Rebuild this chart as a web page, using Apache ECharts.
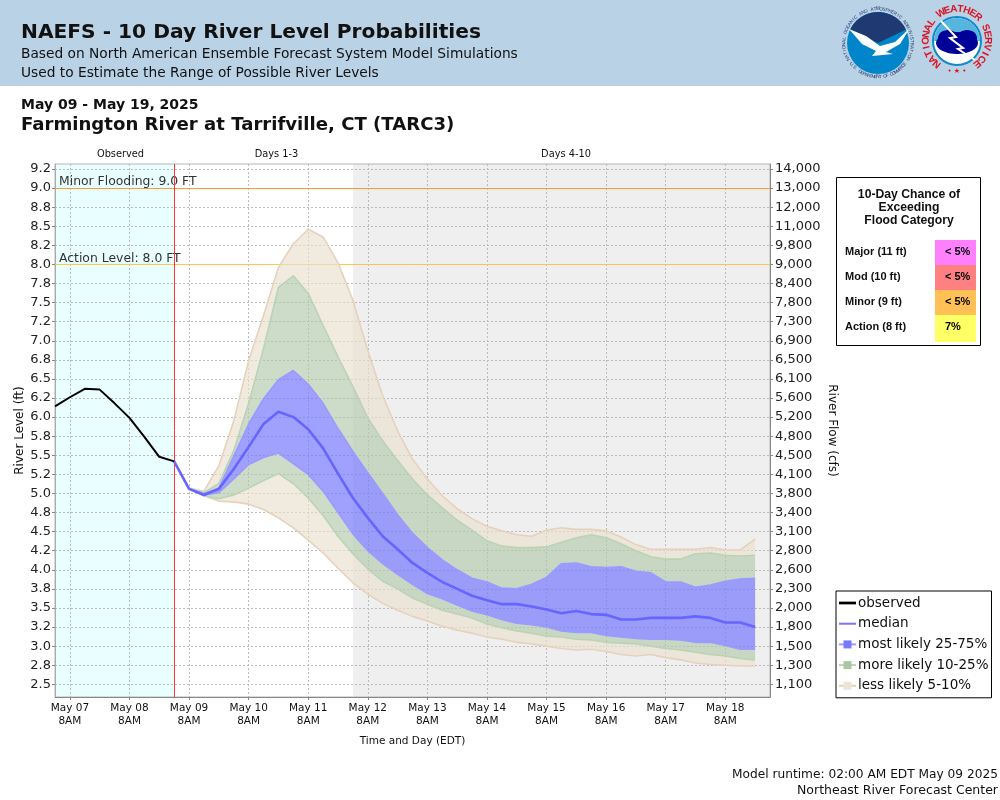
<!DOCTYPE html>
<html><head><meta charset="utf-8">
<script src="https://cdn.jsdelivr.net/npm/echarts@6/dist/echarts.min.js"></script>
<style>html,body{margin:0;padding:0;background:#fff}#c{width:1000px;height:800px}</style>
</head><body><div id="c"></div>
<script>
// ---- axis labels ----
const dayNames = ['May 07','May 08','May 09','May 10','May 11','May 12','May 13','May 14','May 15','May 16','May 17','May 18'];
const hourNames = ['2AM','8AM','2PM','8PM'];
const tickValues = [9.25,9,8.75,8.5,8.25,8,7.75,7.5,7.25,7,6.75,6.5,6.25,6,5.75,5.5,5.25,5,4.75,4.5,4.25,4,3.75,3.5,3.25,3,2.75,2.5];
const levelLabels = ['9.2','9.0','8.8','8.5','8.2','8.0','7.8','7.5','7.2','7.0','6.8','6.5','6.2','6.0','5.8','5.5','5.2','5.0','4.8','4.5','4.2','4.0','3.8','3.5','3.2','3.0','2.8','2.5'];
const flowLabels = ['14,000','13,000','12,000','11,000','9,800','9,000','8,400','7,800','7,300','6,900','6,500','6,100','5,600','5,200','4,800','4,500','4,100','3,800','3,400','3,100','2,800','2,600','2,300','2,000','1,800','1,500','1,300','1,100'];
// ---- series values (ft), every 6 hours ----
const observed = [6.14,6.26,6.37,6.36,6.18,5.99,5.74,5.48,5.42];
const median = [5.42,5.06,4.98,5.06,5.32,5.61,5.91,6.07,6.00,5.84,5.59,5.26,4.94,4.68,4.44,4.27,4.09,3.96,3.84,3.75,3.66,3.60,3.55,3.55,3.52,3.48,3.43,3.46,3.42,3.41,3.35,3.35,3.37,3.37,3.37,3.39,3.37,3.31,3.31,3.25];
const p95 = [5.07,5.03,5.36,5.95,6.74,7.33,7.96,8.27,8.46,8.36,8.02,7.53,6.87,6.28,5.82,5.45,5.19,4.97,4.80,4.67,4.57,4.51,4.46,4.44,4.52,4.55,4.53,4.53,4.51,4.43,4.33,4.27,4.27,4.27,4.27,4.29,4.26,4.26,4.40];
const p90 = [5.06,5.01,5.13,5.56,6.18,6.90,7.70,7.85,7.62,7.20,6.79,6.40,5.99,5.69,5.43,5.19,4.98,4.81,4.65,4.52,4.38,4.31,4.29,4.29,4.30,4.36,4.42,4.46,4.42,4.34,4.25,4.17,4.14,4.14,4.21,4.22,4.19,4.18,4.19];
const p75 = [5.06,5.00,5.07,5.49,5.91,6.24,6.49,6.61,6.43,6.18,5.85,5.55,5.27,5.00,4.72,4.48,4.29,4.13,4.00,3.89,3.84,3.76,3.75,3.81,3.90,4.08,4.09,4.04,4.03,4.04,3.98,3.96,3.84,3.84,3.77,3.80,3.85,3.88,3.89];
const p25 = [5.06,4.98,5.01,5.19,5.38,5.47,5.53,5.39,5.25,5.03,4.75,4.47,4.25,4.08,3.94,3.81,3.69,3.62,3.54,3.46,3.41,3.35,3.30,3.28,3.25,3.20,3.18,3.18,3.14,3.12,3.10,3.09,3.09,3.08,3.05,3.05,3.01,2.96,2.96];
const p10 = [5.06,4.97,4.93,4.98,5.07,5.17,5.26,5.13,4.94,4.71,4.44,4.21,4.01,3.85,3.75,3.63,3.55,3.47,3.42,3.37,3.29,3.24,3.20,3.17,3.13,3.12,3.09,3.08,3.05,3.04,3.03,3.00,2.97,2.95,2.92,2.89,2.87,2.84,2.82];
const p5 = [5.06,4.97,4.90,4.89,4.86,4.79,4.68,4.55,4.39,4.22,4.02,3.83,3.68,3.56,3.47,3.39,3.33,3.26,3.21,3.17,3.12,3.09,3.05,3.03,3.00,2.97,2.95,2.96,2.93,2.89,2.87,2.89,2.85,2.82,2.78,2.76,2.75,2.74,2.74];
// ---- flood table ----
const floodNames = ['Major (11 ft)','Mod (10 ft)','Minor (9 ft)','Action (8 ft)'];
const floodChances = ['< 5%','< 5%','< 5%','7%'];
const floodColors = ['#FF80FF','#FF8080','#FFC055','#FFFF66'];

const categories = [];
dayNames.forEach(d => hourNames.forEach(h => categories.push(d + ' ' + h)));
categories.push('May 19 2AM');
const pad = (arr, n) => new Array(n).fill(null).concat(arr);
const diff = (a, b) => pad(a.map((v, i) => +(v - b[i]).toFixed(2)), 9);
const is8 = (i, v) => v.endsWith(' 8AM');

const SANS = '"DejaVu Sans"', LIB = '"Liberation Sans"';
const TAN = '#EADECE', GREEN = '#B1CAAC', BLUE = '#7777FF';
const areaS = (color, opacity, data) => ({
  type:'line', stack:'bands', data, symbol:'none', silent:true, connectNulls:false,
  lineStyle:{width:0}, areaStyle: color ? {color, opacity} : {opacity:0}, z:2
});
const edge = (name, data, color, itemColor) => ({
  type:'line', name, data:pad(data,9), symbol:'rect', showSymbol:false, silent:true,
  lineStyle:{color, width:1.6}, itemStyle:{color:itemColor}, z:3
});
const base = areaS(null, 0, pad(p5, 9));
base.markArea = { silent:true, z:-1, itemStyle:{borderWidth:0}, data:[
  [{xAxis:categories[0], itemStyle:{color:'#E9FFFF'}},{xAxis:categories[8]}],
  [{xAxis:categories[20], itemStyle:{color:'#EFEFEF'}},{xAxis:categories[48]}]
]};
const series = [
  base,
  areaS(TAN,.65,diff(p10,p5)), areaS(GREEN,.65,diff(p25,p10)), areaS(BLUE,.7,diff(p75,p25)),
  areaS(GREEN,.65,diff(p90,p75)), areaS(TAN,.65,diff(p95,p90)),
  edge('less likely 5-10%',p95,'#E6D2BC','#EFE3D3'), edge('less likely 5-10%',p5,'#E6D2BC','#EFE3D3'),
  edge('more likely 10-25%',p90,'#BBD3B4','#A9C8A2'), edge('more likely 10-25%',p10,'#BBD3B4','#A9C8A2'),
  edge('most likely 25-75%',p75,'#9A9AFF','#7878FF'), edge('most likely 25-75%',p25,'#9A9AFF','#7878FF'),
  {type:'line', name:'median', data:pad(median,8), symbol:'none', silent:true, lineStyle:{color:'#6666FF',width:2.6}, z:5,
   markLine:{silent:true, symbol:'none', z:4, animation:false, data:[
     {xAxis:categories[8], lineStyle:{color:'#FF3333',width:1,type:'solid'}, label:{show:false}}
   ]}},
  {type:'line', name:'observed', data:observed, symbol:'none', silent:true, lineStyle:{color:'#000',width:2}, z:6,
   markLine:{silent:true, symbol:'none', z:1.5, animation:false, data:[
     {yAxis:9, lineStyle:{color:'#FF9A33',width:1,type:'solid'},
      label:{formatter:'Minor Flooding: 9.0 FT',position:'insideStartTop',distance:[4,0],color:'#333',fontFamily:SANS,fontSize:12.4}},
     {yAxis:8, lineStyle:{color:'#FFC844',width:1,type:'solid'},
      label:{formatter:'Action Level: 8.0 FT',position:'insideStartTop',distance:[4,0],color:'#333',fontFamily:SANS,fontSize:12.4}}
   ]}}
];

// ---- page furniture ----
const T = (text, x, y, size, opt = {}) => ({type:'text', x, y, silent:true, z:20, style:Object.assign({
  text, fontSize:size, fontFamily:opt.family||SANS, fontWeight:opt.weight||'normal', fill:opt.fill||'#111',
  align:opt.align||'left', textAlign:opt.align||'left', verticalAlign:'middle', textVerticalAlign:'middle'})});
const arcText = (str, cx, cy, r, from, to, size, fill, weight, bottom) => {
  const out = [], chars = str.split('');
  chars.forEach((ch, i) => {
    const a = (from + (to - from) * i / (chars.length - 1)) * Math.PI / 180;
    const x = cx + r * Math.sin(a), y = bottom ? cy + r * Math.cos(a) : cy - r * Math.cos(a);
    out.push({type:'text', x, y, rotation: bottom ? a : -a, silent:true, z:22, style:{
      text:ch, fontSize:size, fontFamily:LIB, fontWeight:weight, fill, align:'center', textAlign:'center', verticalAlign:'middle', textVerticalAlign:'middle'}});
  });
  return out;
};
const shape = (type, sh, fill, extra = {}) => Object.assign({type, shape:sh, silent:true, z:21, style:{fill}}, extra);
const elements = [
  {type:'rect', shape:{x:0,y:0,width:1000,height:86}, style:{fill:'#BAD2E5'}, silent:true, z:19},
  T('NAEFS - 10 Day River Level Probabilities',21,33,20.2,{weight:'bold'}),
  T('Based on North American Ensemble Forecast System Model Simulations',21,54,13.75),
  T('Used to Estimate the Range of Possible River Levels',21,73,13.75),
  T('May 09 - May 19, 2025',21,105,14,{weight:'bold'}),
  T('Farmington River at Tarrifville, CT (TARC3)',21,125,18.1,{weight:'bold'}),
  T('Observed',120.5,154,9.8,{align:'center'}),
  T('Days 1-3',276.5,154,9.8,{align:'center'}),
  T('Days 4-10',566,154,9.8,{align:'center'}),
  T('Model runtime: 02:00 AM EDT May 09 2025',998,775,12.2,{align:'right'}),
  T('Northeast River Forecast Center',998,791,12.5,{align:'right'}),
  // flood table
  {type:'rect', shape:{x:836.5,y:177.5,width:144,height:168}, style:{fill:'#fff',stroke:'#000',lineWidth:1}, silent:true, z:19},
  T('10-Day Chance of',909,195,12.2,{family:LIB,weight:'bold',align:'center'}),
  T('Exceeding',909,208,12.2,{family:LIB,weight:'bold',align:'center'}),
  T('Flood Category',909,221,12.2,{family:LIB,weight:'bold',align:'center'}),
  // NOAA logo
  shape('circle',{cx:878,cy:43,r:31},'#0085CA'),
  shape('sector',{cx:878,cy:43,r:31,r0:0,startAngle:Math.PI+0.45,endAngle:2*Math.PI-0.45,clockwise:true},'#1F3A72'),
  shape('polygon',{points:[[849,29],[866,36],[880,46],[895,42],[910,28],[900,44],[886,52],[893,54],[872,56],[876,51],[862,44]]},'#fff'),
  T('NOAA',878,26,12.5,{weight:'bold',align:'center',fill:'#fff',family:LIB}),
  ...arcText('NATIONAL OCEANIC AND ATMOSPHERIC ADMINISTRATION',878,43,34,-118,118,4.6,'#1F3A72','normal',false),
  ...arcText('U.S. DEPARTMENT OF COMMERCE',878,43,34,-52,52,4.6,'#1F3A72','normal',true),
  // NWS logo
  shape('circle',{cx:957,cy:41,r:24},'#fff',{style:{fill:'#fff',stroke:'#1188CC',lineWidth:2}}),
  shape('sector',{cx:957,cy:41,r:23,r0:0,startAngle:Math.PI,endAngle:2*Math.PI,clockwise:true},'#55B5DD'),
  shape('ellipse',{cx:957,cy:43,rx:21,ry:11},'#000099'),
  shape('ellipse',{cx:948,cy:38,rx:10,ry:8},'#000099'),
  shape('ellipse',{cx:967,cy:38,rx:10,ry:8},'#000099'),
  shape('polyline',{points:[[941,21],[956,37],[950,38],[963,48],[958,49],[975,60]]},'none',{style:{fill:'none',stroke:'#fff',lineWidth:2}}),
  ...arcText('NATIONAL WEATHER SERVICE',957,40,31,-140,140,10,'#DD1122','bold',false),
  T('• ★ •',957,71,7,{align:'center',fill:'#DD1122',family:SANS})
];
floodNames.forEach((name, i) => {
  const top = 240 + i * 25, h = i === 3 ? 27 : 25;
  elements.push({type:'rect', shape:{x:935,y:top,width:41,height:h}, style:{fill:floodColors[i]}, silent:true, z:20});
  elements.push(T(name,845,top+12,11,{family:LIB,weight:'bold'}));
  elements.push(T(floodChances[i],945,top+12,11,{family:LIB,weight:'bold',fill:'#000'}));
});

const chart = echarts.init(document.getElementById('c'), null, {renderer:'canvas', width:1000, height:800});
const fmtLevel = v => levelLabels[tickValues.indexOf(v)] ?? '';
const fmtFlow = v => flowLabels[tickValues.indexOf(v)] ?? '';
const tickCfg = {show:true, length:3, lineStyle:{color:'#888'}, customValues:tickValues};
chart.setOption({
  animation:false,
  backgroundColor:'#fff',
  textStyle:{fontFamily:SANS},
  grid:{left:55, right:230, top:164, bottom:103, outerBoundsMode:'none', show:true, borderColor:'#B5B5B5', borderWidth:1, backgroundColor:'transparent', containLabel:false},
  legend:{
    orient:'vertical', left:836, top:591, itemWidth:17, itemHeight:10, itemGap:6.7,
    padding:[5,3,5,2], backgroundColor:'#fff', borderColor:'#000', borderWidth:1, borderRadius:0, selectedMode:false, z:15,
    textStyle:{fontFamily:SANS, fontSize:13.5, color:'#111', padding:[0,0,0,-3]},
    data:[
      {name:'observed', icon:'path://M0 42H100V58H0Z', itemStyle:{color:'#000'}},
      {name:'median', icon:'path://M0 44H100V56H0Z', itemStyle:{color:'#7777FF'}},
      {name:'most likely 25-75%'},
      {name:'more likely 10-25%'},
      {name:'less likely 5-10%'}
    ]
  },
  xAxis:{
    type:'category', data:categories, boundaryGap:false,
    name:'Time and Day (EDT)', nameLocation:'middle', nameGap:39,
    nameTextStyle:{fontFamily:SANS,fontSize:10.5,color:'#111'},
    axisLine:{show:true,lineStyle:{color:'#888',width:1}},
    axisTick:{show:true,length:3,interval:is8,lineStyle:{color:'#888'}},
    axisLabel:{show:true,interval:is8,margin:5,fontFamily:SANS,fontSize:10.5,color:'#111',lineHeight:13,hideOverlap:false,
      formatter:v => v.replace(' 8AM','\n8AM')},
    splitLine:{show:true,interval:is8,lineStyle:{color:'#BBB',type:[2,2],width:1}}
  },
  yAxis:[{
    type:'value', min:2.334, max:9.315, position:'left', scale:true,
    name:'River Level (ft)', nameLocation:'middle', nameGap:29, nameRotate:90, nameMoveOverlap:false,
    nameTextStyle:{fontFamily:SANS,fontSize:12,color:'#111'},
    axisLine:{show:true,lineStyle:{color:'#AAA'}},
    axisTick:tickCfg,
    axisLabel:{show:true,customValues:tickValues,formatter:fmtLevel,margin:4,padding:[4,0,0,0],fontFamily:SANS,fontSize:13,color:'#222',hideOverlap:false},
    splitLine:{show:true,lineStyle:{color:'#BBB',type:[2,2],width:1}}
  },{
    type:'value', min:2.334, max:9.315, position:'right', scale:true,
    name:'River Flow (cfs)', nameLocation:'middle', nameGap:56, nameRotate:-90, nameMoveOverlap:false,
    nameTextStyle:{fontFamily:SANS,fontSize:12,color:'#111'},
    axisLine:{show:true,lineStyle:{color:'#888'}},
    axisTick:tickCfg,
    axisLabel:{show:true,customValues:tickValues,formatter:fmtFlow,margin:5,padding:[4,0,0,0],fontFamily:SANS,fontSize:13,color:'#222',hideOverlap:false},
    splitLine:{show:false}
  }],
  series,
  graphic:{elements}
});
</script></body></html>
